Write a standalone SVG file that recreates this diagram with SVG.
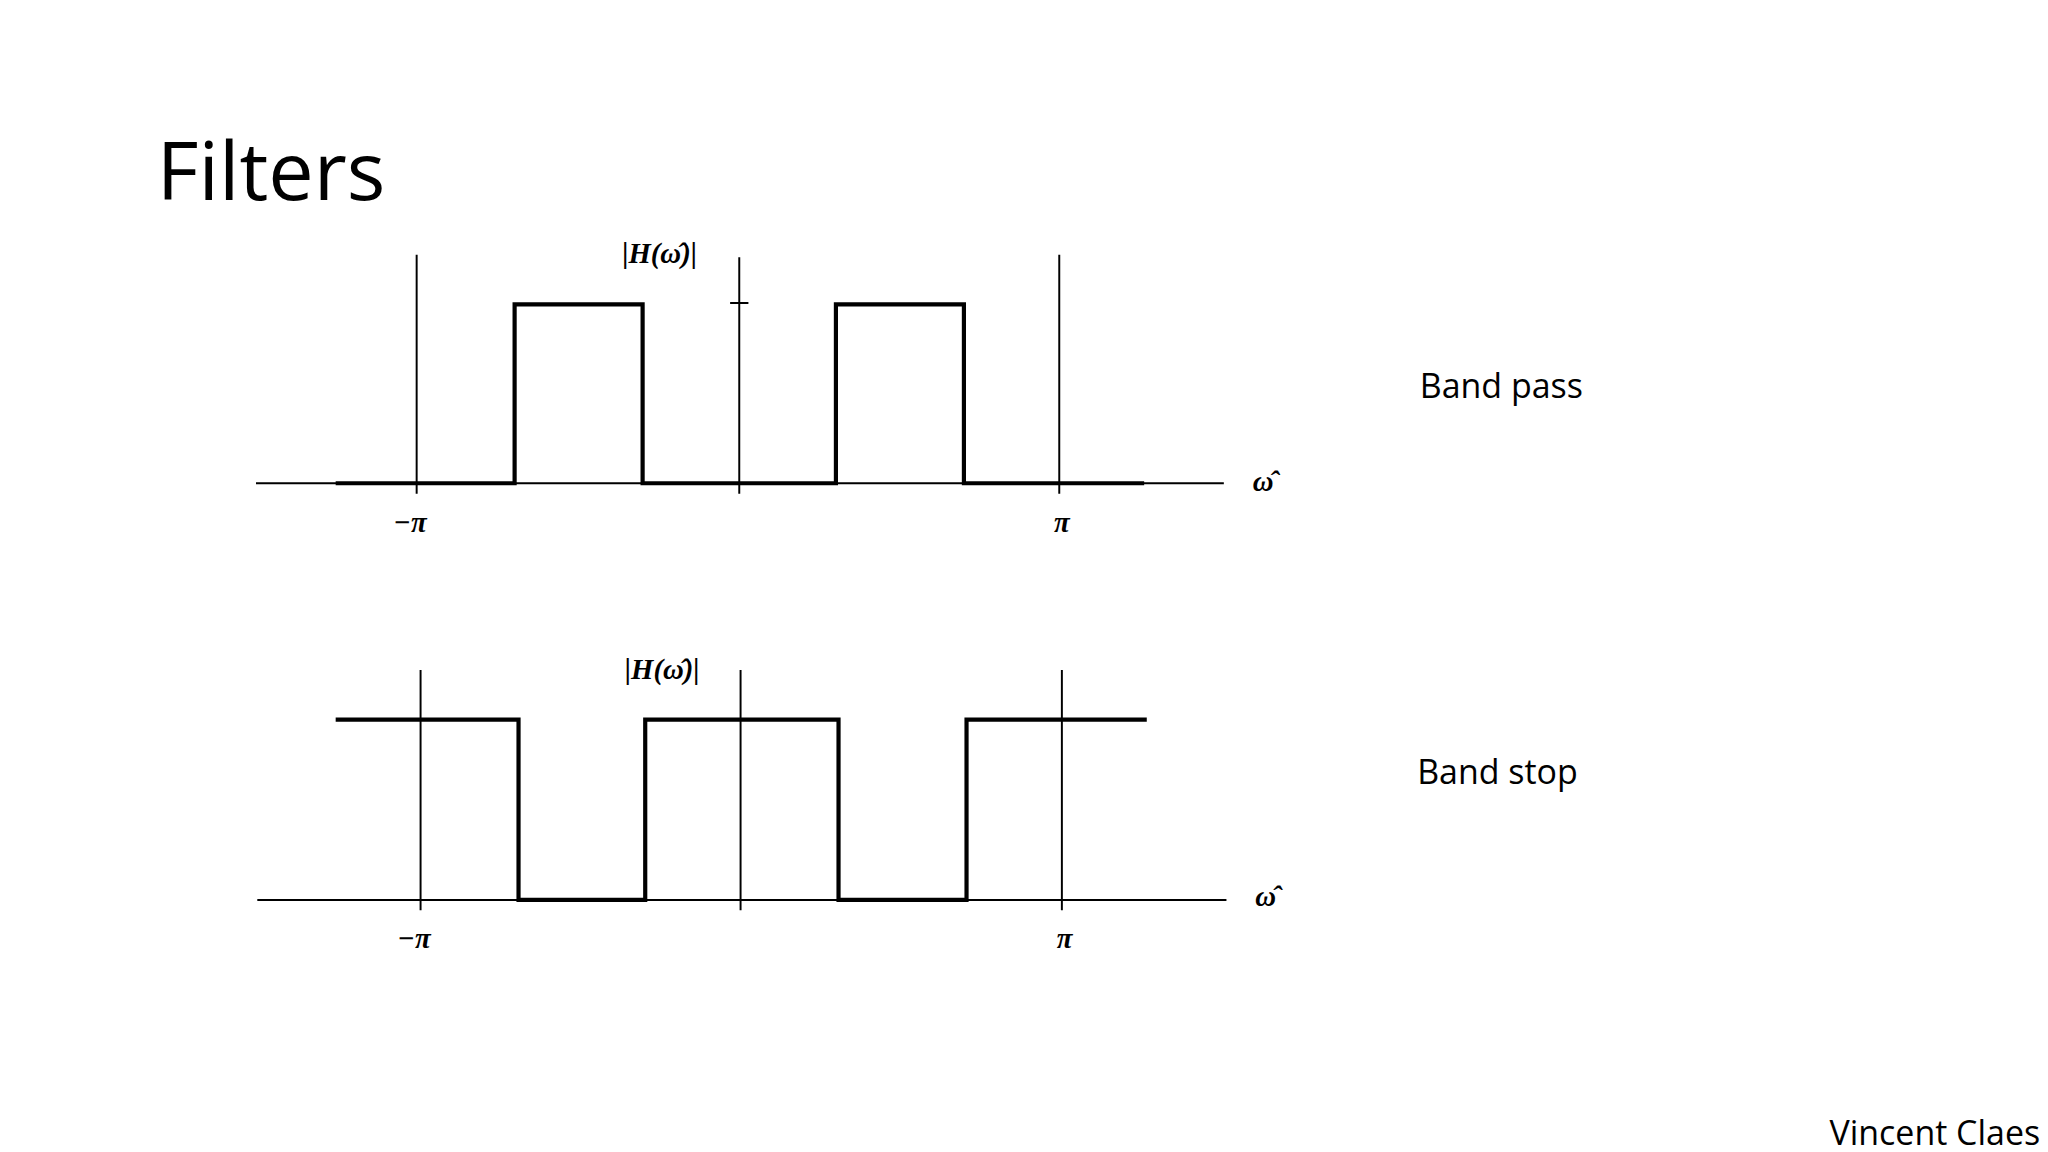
<svg xmlns="http://www.w3.org/2000/svg" width="2048" height="1152" viewBox="0 0 2048 1152">
<style>
.ax{stroke:#000;stroke-width:1.5;fill:none}
.sig{stroke:#000;stroke-width:3.2;fill:none}
.lbl{font-family:"Liberation Serif",serif;font-weight:bold;font-style:italic;font-size:22px}
.txt{font-family:"Open Sans","Liberation Sans",sans-serif;font-size:26px}
</style>
<rect width="2048" height="1152" fill="#fff"/>
<g transform="scale(1.30612)">
<text x="120" y="153" font-family="Open Sans, Liberation Sans, sans-serif" font-size="62">Filters</text>
<g id="bandpass">
<g class="ax"><path d="M196 370H937M319 195V378M566 197V378M811 195V378M559 232H573"/></g>
<path class="sig" d="M257 370H394V233H492V370H640V233H738V370H876"/>
<text class="lbl" x="505" y="201" text-anchor="middle">|H(ω̂)|</text>
<text class="lbl" x="314" y="407" text-anchor="middle">−π</text>
<text class="lbl" x="813" y="407" text-anchor="middle">π</text>
<text class="lbl" x="967" y="376" text-anchor="middle">ω̂</text>
</g>
<g id="bandstop">
<g class="ax"><path d="M197 689H939M322 513V697M567 513V697M813 513V697"/></g>
<path class="sig" d="M257 551H397V689H494V551H642V689H740V551H878"/>
<text class="lbl" x="507" y="520" text-anchor="middle">|H(ω̂)|</text>
<text class="lbl" x="317" y="726" text-anchor="middle">−π</text>
<text class="lbl" x="815" y="726" text-anchor="middle">π</text>
<text class="lbl" x="969" y="694" text-anchor="middle">ω̂</text>
</g>
<text class="txt" x="1087" y="305">Band pass</text>
<text class="txt" x="1085" y="600">Band stop</text>
<text class="txt" x="1562" y="877" text-anchor="end">Vincent Claes</text>
</g>
</svg>
